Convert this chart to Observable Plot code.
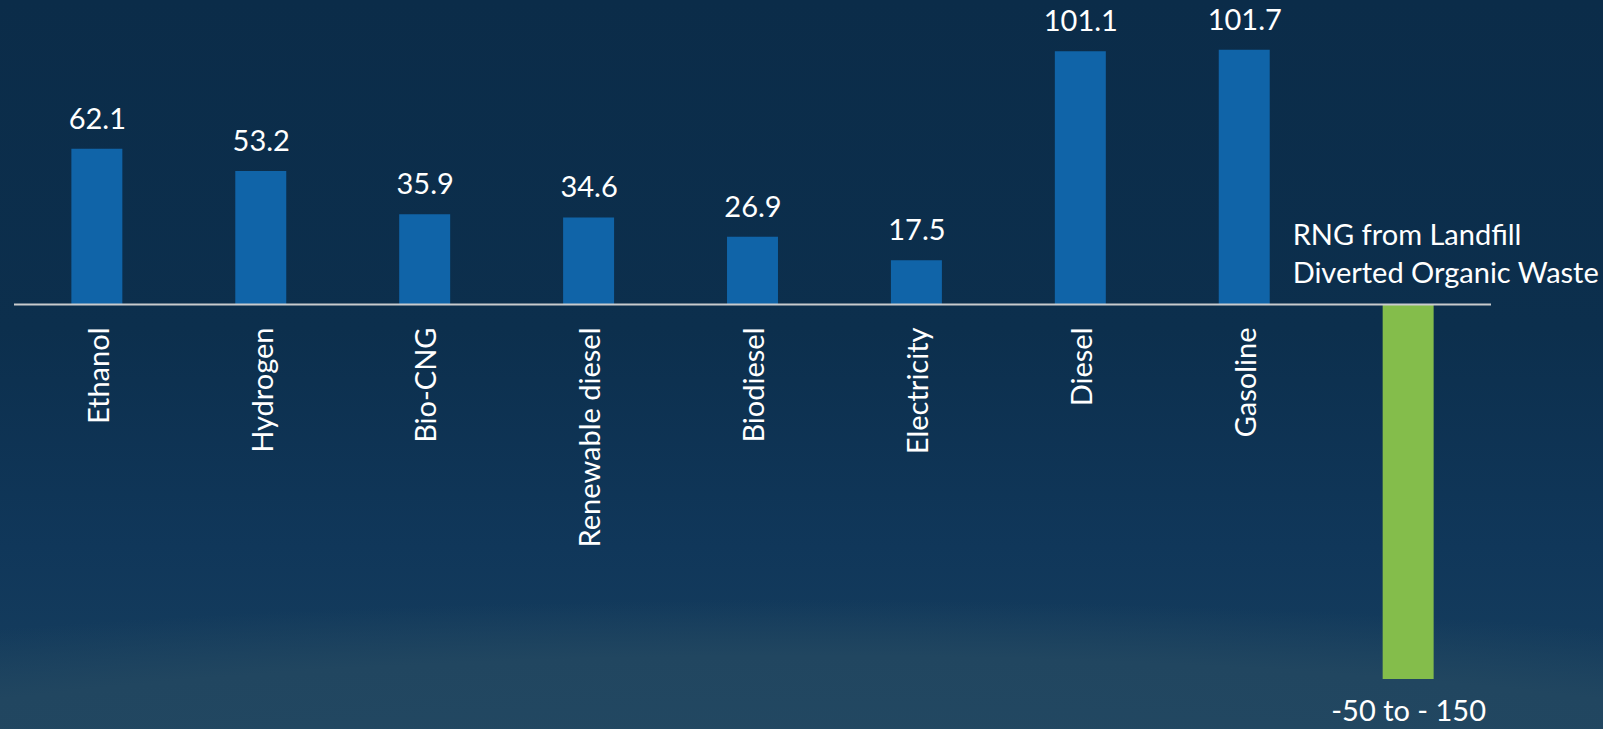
<!DOCTYPE html>
<html>
<head>
<meta charset="utf-8">
<script src="https://cdn.jsdelivr.net/npm/d3@7"></script>
<script src="https://cdn.jsdelivr.net/npm/@observablehq/plot@0.6"></script>
<style>
  html, body { margin: 0; padding: 0; }
  body {
    width: 1603px; height: 729px; overflow: hidden;
    background:
      radial-gradient(ellipse 1550px 200px at 50% 800px, rgba(35,73,99,1) 0%, rgba(33,70,96,1) 72%, rgba(33,70,96,0) 100%),
      linear-gradient(to bottom, #0b2c49 0%, #0c2f4d 45%, #10375a 75%, #173f5f 100%);
  }
  #chart svg { display: block; }
</style>
</head>
<body>
<div id="chart"></div>
<script>
// Data
const fuels = ["Ethanol", "Hydrogen", "Bio-CNG", "Renewable diesel", "Biodiesel", "Electricity", "Diesel", "Gasoline"];
const values = [62.1, 53.2, 35.9, 34.6, 26.9, 17.5, 101.1, 101.7];
const rngName = "RNG from Landfill\nDiverted Organic Waste";
const rngRange = [-50, -150];
const rngLabel = "-50 to - 150";

const categories = [...fuels, rngName];
const fuelData = fuels.map((name, i) => ({name, value: values[i]}));
const rngData = [{name: rngName, lo: rngRange[0], hi: rngRange[1], label: rngLabel}];

const font = "Lato, 'Open Sans', sans-serif";
const fs = 29;

const chart = Plot.plot({
  width: 1603,
  height: 729,
  marginLeft: 14,
  marginRight: 112,
  marginTop: 0,
  marginBottom: 0,
  style: {background: "transparent", color: "white", fontFamily: font, fontSize: fs + "px"},
  x: {type: "band", domain: categories, paddingInner: 0.689, paddingOuter: 0.35, round: false, axis: null},
  y: {domain: [-170, 121.6], axis: null},
  marks: [
    Plot.barY(fuelData, {x: "name", y: "value", fill: "#1064a8"}),
    Plot.barY(rngData, {x: "name", y1: 0, y2: d => Math.min(d.lo, d.hi), fill: "#84bd4b"}),
    Plot.ruleY([0], {stroke: "#c9cbcd", strokeWidth: 2}),
    Plot.text(fuelData, {x: "name", y: "value", text: d => d.value.toFixed(1), fill: "white", fontSize: fs, lineAnchor: "middle", dy: -30}),
    Plot.text(fuelData, {x: "name", y: () => 0, text: "name", fill: "white", fontSize: fs, rotate: -90, textAnchor: "end", lineAnchor: "middle", dx: 2, dy: 23}),
    Plot.text(rngData, {x: "name", y: () => 0, text: "name", fill: "white", fontSize: fs, textAnchor: "start", lineAnchor: "bottom", lineHeight: 1.31, dx: -116, dy: -22}),
    Plot.text(rngData, {x: "name", y: d => Math.min(d.lo, d.hi), text: "label", fill: "white", fontSize: fs, lineAnchor: "top", dy: 21})
  ]
});
document.getElementById("chart").appendChild(chart);
</script>
</body>
</html>
